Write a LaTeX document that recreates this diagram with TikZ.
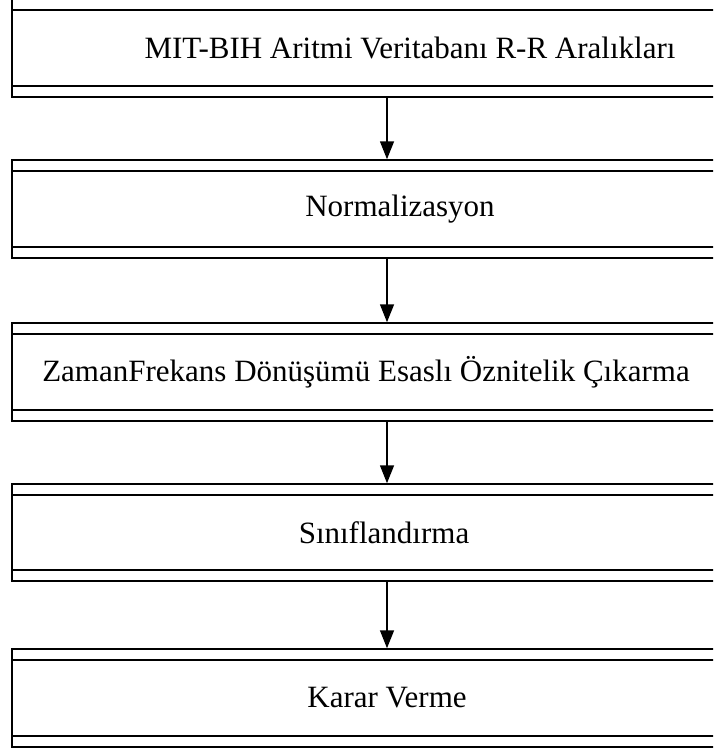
\documentclass[tikz,border=0pt]{standalone}
\usepackage{fontspec}
\setmainfont{Liberation Serif}
\usetikzlibrary{arrows.meta}
\tikzset{stage/.style={draw, rectangle, inner sep=0pt, minimum height=98pt, minimum width=#1,
    font=\fontsize{31}{37}\selectfont,
    path picture={
      \draw ([yshift=-11pt]path picture bounding box.north west) -- ([yshift=-11pt]path picture bounding box.north east);
      \draw ([yshift=11pt]path picture bounding box.south west) -- ([yshift=11pt]path picture bounding box.south east);
    }},
  flow/.style={-{Triangle[width=14pt,length=18pt]}}}

\begin{document}
\begin{tikzpicture}[x=1pt,y=-1pt,line width=1.5pt]
  \useasboundingbox (0,0) rectangle (713,749);
  \clip (0,0) rectangle (713,749);
  \node[stage=796pt] (mit) at (410,48) {MIT-BIH Aritmi Veritabanı R-R Aralıkları};
  \node[stage=776pt] (norm) at (400,209) {Normalizasyon};
  \node[stage=708pt] (zf) at (366,372) {ZamanFrekans Dönüşümü Esaslı Öznitelik Çıkarma};
  \node[stage=744pt,minimum height=97pt] (sinif) at (384,532.5) {Sınıflandırma};
  \node[stage=750pt] (karar) at (387,698) {Karar Verme};
  \coordinate (ax) at (387,0);
  % arrows between the stages
  \foreach \a/\b in {mit/norm,norm/zf,zf/sinif,sinif/karar}
    \draw[flow] (ax |- \a.south) -- (ax |- \b.north);
\end{tikzpicture}
\end{document}
